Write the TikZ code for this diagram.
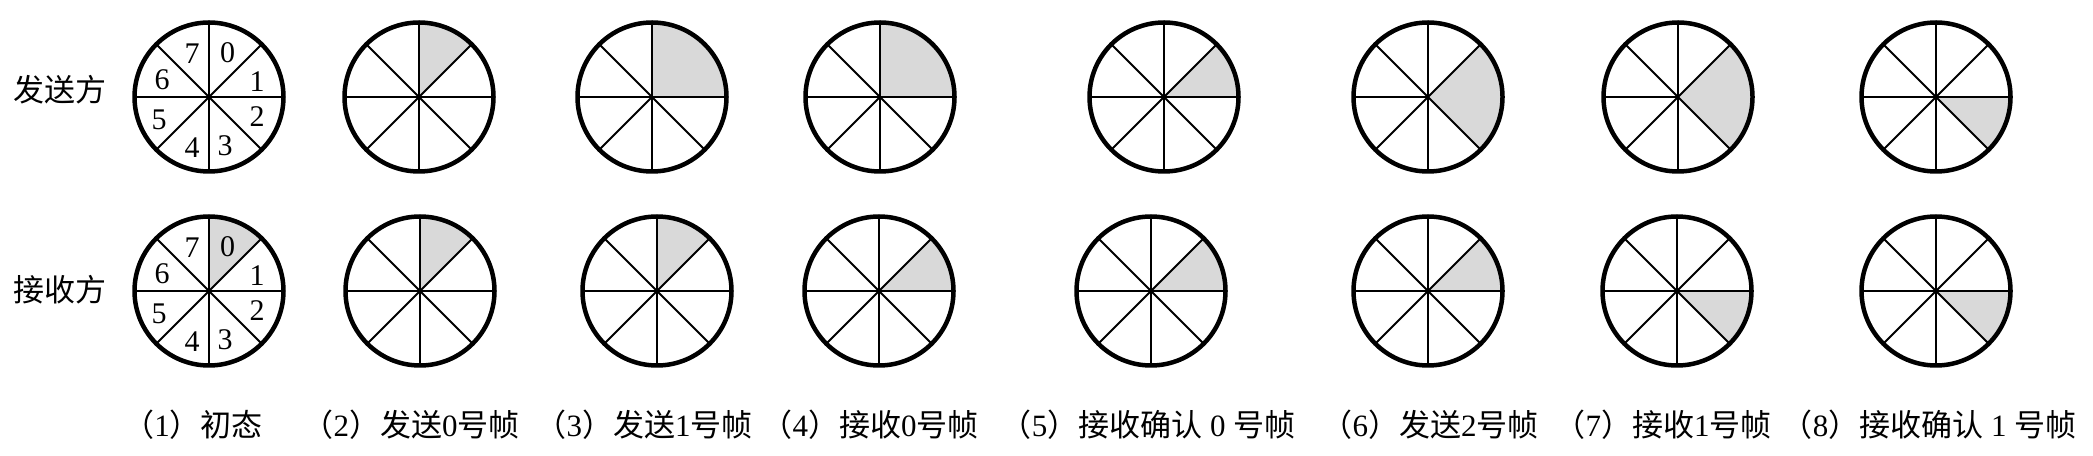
\documentclass[tikz,border=0pt]{standalone}
\usepackage{fontspec}
\setmainfont{Liberation Serif}
\newfontfamily\cjk{Noto Sans CJK SC}
\newcommand\zh[1]{{\cjk #1}}
\tikzset{
  rim/.style={line width=4.5pt},
  spoke/.style={line width=2pt},
  shadesec/.style={fill=black!15},
  sidelbl/.style={font=\fontsize{31}{31}\selectfont\cjk, inner sep=0pt},
  caplbl/.style={font=\fontsize{31}{31}\selectfont, inner sep=0pt},
  numlbl/.style={font=\fontsize{30}{30}\selectfont, inner sep=0pt},
}
\newcommand\wheelshade[3]{\fill[shadesec] (#1) -- ++(#2:74.5) arc[start angle=#2,end angle=#3,radius=74.5] -- cycle;}
% #1 centre, #2 list of radius angles to draw
\newcommand\wheeldraw[2]{%
  \foreach \a in {#2}{\draw[spoke] (#1) -- ++(\a:74.5);}
  \draw[rim] (#1) circle (74.5);}
\newcommand\wheelnums[1]{%
  \node[numlbl] (#1n0) at ($(#1)+(18.5,44.5)$) {0};
  \node[numlbl] (#1n1) at ($(#1)+(48,15)$) {1};
  \node[numlbl] (#1n2) at ($(#1)+(48,-20)$) {2};
  \node[numlbl] (#1n3) at ($(#1)+(16,-49)$) {3};
  \node[numlbl] (#1n4) at ($(#1)+(-17,-51)$) {4};
  \node[numlbl] (#1n5) at ($(#1)+(-50,-23)$) {5};
  \node[numlbl] (#1n6) at ($(#1)+(-47,17.5)$) {6};
  \node[numlbl] (#1n7) at ($(#1)+(-17,43)$) {7};}
\usetikzlibrary{calc}
\begin{document}
\begin{tikzpicture}[x=1pt,y=1pt]
\useasboundingbox (0,0) rectangle (2093,455);
% centres
\coordinate (t1) at (209,358); \coordinate (t2) at (419,358);
\coordinate (t3) at (652,358); \coordinate (t4) at (880,358);
\coordinate (t5) at (1164,358); \coordinate (t6) at (1428,358);
\coordinate (t7) at (1678,358); \coordinate (t8) at (1936,358);
\coordinate (b1) at (209,164); \coordinate (b2) at (420,164);
\coordinate (b3) at (657,164); \coordinate (b4) at (879,164);
\coordinate (b5) at (1151,164); \coordinate (b6) at (1428,164);
\coordinate (b7) at (1677,164); \coordinate (b8) at (1936,164);
% shading, sender
\wheelshade{t2}{90}{45}
\wheelshade{t3}{90}{0}
\wheelshade{t4}{90}{0}
\wheelshade{t5}{45}{0}
\wheelshade{t6}{45}{-45}
\wheelshade{t7}{45}{-45}
\wheelshade{t8}{0}{-45}
% shading, receiver
\wheelshade{b1}{90}{45}
\wheelshade{b2}{90}{45}
\wheelshade{b3}{90}{45}
\wheelshade{b4}{45}{0}
\wheelshade{b5}{45}{0}
\wheelshade{b6}{45}{0}
\wheelshade{b7}{0}{-45}
\wheelshade{b8}{0}{-45}
% wheels
\foreach \w in {t1,t2,t5,t8,b1,b2,b3,b4,b5,b6,b7,b8}{\wheeldraw{\w}{0,45,90,135,180,225,270,315}}
\wheeldraw{t3}{0,90,135,180,225,270,315}
\wheeldraw{t4}{0,90,135,180,225,270,315}
\wheeldraw{t6}{45,90,135,180,225,270,315}
\wheeldraw{t7}{45,90,135,180,225,270,315}
\wheelnums{t1}
\wheelnums{b1}
% side labels
\node[sidelbl] (send) at (60,365) {发送方};
\node[sidelbl] (recv) at (60,165) {接收方};
% captions
\node[caplbl] (c1) at (193,30) {\zh{（}1\zh{）初态}};
\node[caplbl] (c2) at (411,30) {\zh{（}2\zh{）发送}0\zh{号帧}};
\node[caplbl] (c3) at (644,30) {\zh{（}3\zh{）发送}1\zh{号帧}};
\node[caplbl] (c4) at (870,30) {\zh{（}4\zh{）接收}0\zh{号帧}};
\node[caplbl] (c5) at (1148,30) {\zh{（}5\zh{）接收确认} 0 \zh{号帧}};
\node[caplbl] (c6) at (1430,30) {\zh{（}6\zh{）发送}2\zh{号帧}};
\node[caplbl] (c7) at (1663,30) {\zh{（}7\zh{）接收}1\zh{号帧}};
\node[caplbl] (c8) at (1929,30) {\zh{（}8\zh{）接收确认} 1 \zh{号帧}};
\end{tikzpicture}
\end{document}
